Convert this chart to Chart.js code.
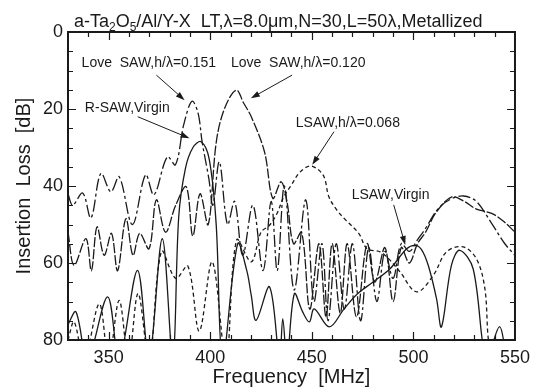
<!DOCTYPE html>
<html>
<head>
<meta charset="UTF-8">
<title>Insertion Loss</title>
<script src="https://cdn.jsdelivr.net/npm/chart.js"></script>
<style>
  html, body { margin: 0; padding: 0; background: #fff; }
</style>
</head>
<body>
<canvas id="lossChart" width="537" height="389"></canvas>
<script>
// values: frequency (MHz) and insertion loss (dB)
const virginFreq = [330, 333.9, 339.6, 349.5, 355.2, 364.2, 369.9, 376.4, 381.6, 384.5, 387.8, 391.5, 395.5, 399.5, 402.9, 406.1, 413.5, 418, 420.2, 422.6, 429.2, 434.1, 435.7, 437.8, 441.4, 445.5, 448.8, 451.2, 458.6, 465.9, 472.5, 480, 488.5, 496.7, 500.8, 504, 507.3, 511.4, 513.8, 518.7, 522.8, 529.4, 535.9, 542.4, 546.5, 550];
const virginLoss = [76, 72.7, 85, 68.8, 85, 61.9, 85, 53.7, 85, 48, 35.4, 30, 28.5, 33, 49.7, 85, 55, 62, 68.4, 74.9, 66.2, 85, 74.5, 85, 68, 72.7, 75.3, 71.9, 76.6, 71.9, 68, 65, 61.5, 56.3, 55.4, 56.5, 60.6, 69.3, 76.6, 60.6, 56.7, 61.5, 85, 76.5, 85, 82];

const love151Freq = [330, 332.3, 337.2, 341.3, 346.2, 351.1, 355.2, 361.7, 368.2, 372.3, 378.9, 382.9, 387, 391, 394, 396, 399.3, 401.3, 404.5, 408.5, 412, 416, 421, 426, 430, 433, 436.5, 441.3, 447, 451, 455, 458, 462, 466, 470, 474, 478, 482, 486, 490, 494, 498, 502, 506, 512, 518, 524.6, 531, 538.5, 545, 550];
const love151Loss = [42, 45, 41.8, 48.3, 36.7, 41.5, 37.6, 50, 37.1, 42.3, 32.4, 34.5, 24, 18, 21, 28.5, 38, 45, 33.7, 50, 44, 58, 45, 62, 44, 62, 40, 67, 43.6, 70, 55, 75, 55, 72, 55, 75, 56, 70, 57, 64, 55, 57, 54, 51, 46, 43.5, 42.6, 44, 49.7, 55, 58];

const love120Freq = [330, 333, 338.8, 341.5, 344.3, 347.8, 351.4, 354.4, 358.5, 362, 365.3, 369.9, 373.5, 378, 383, 388.2, 391.4, 395, 399, 403, 407.1, 412.8, 416.5, 420.2, 426.7, 430.8, 434.9, 437.8, 441, 445, 449, 453.5, 457, 460, 464, 467.4, 472, 477.2, 481, 486, 490, 494, 498, 502, 506, 511, 518.9, 525, 531, 538.5, 544, 550];
const love120Loss = [52, 60.6, 53.7, 62, 50.6, 58, 52.3, 62, 48.5, 58, 52.3, 56.3, 43.6, 52, 45, 40.2, 53, 42, 50, 28.5, 19.8, 15.1, 18.5, 22, 31.1, 43.2, 38.9, 44.1, 55, 52, 72, 55, 74, 55, 73, 55, 74, 55, 65, 56, 70, 56, 60, 55, 52, 47, 42.8, 44, 46, 47.1, 49, 52];

const lsaw068Freq = [330, 333, 338, 345.4, 350, 355.2, 359.8, 364.5, 370, 376, 383, 389, 394.6, 401, 407.8, 413, 420.2, 425, 429.2, 433, 436, 440, 444, 448.8, 452.5, 456, 458.4, 462, 466.6, 473.1, 477.2, 483.6, 488, 493.4, 501.6, 509.8, 516.3, 524.5, 531, 535, 539.2, 550];
const lsaw068Loss = [80, 75.3, 85, 70.6, 85, 69.7, 85, 67.9, 85, 57, 64, 60.8, 77.7, 59.7, 85, 54, 59.7, 52, 50.2, 47, 43, 39.7, 36.5, 34.8, 35.5, 37.6, 42.8, 46, 48.8, 52.3, 56.3, 57.1, 59, 62.3, 67.5, 63.2, 57.1, 55.8, 58.9, 66, 85, 85];

const xTickValues = [350, 400, 450, 500, 550];
const xMinorTicks = [340, 350, 360, 370, 380, 390, 400, 410, 420, 430, 440, 450, 460, 470, 480, 490, 500, 510, 520, 530, 540];
const yTickValues = [0, 20, 40, 60, 80];
const yMinorTicks = [5, 10, 15, 20, 25, 30, 35, 40, 45, 50, 55, 60, 65, 70, 75];

const FONT = '"Liberation Sans", Arial, sans-serif';
const INK = '#1a1a1a';

// annotation texts with their anchor (MHz, dB), and arrows from -> to
const notes = [
    { text: 'Love  SAW,h/\u03bb=0.151', f: 336.7, d: 8.1 },
    { text: 'Love  SAW,h/\u03bb=0.120', f: 410.2, d: 8.1 },
    { text: 'R-SAW,Virgin', f: 338.3, d: 19.7 },
    { text: 'LSAW,h/\u03bb=0.068', f: 442.1, d: 23.6 },
    { text: 'LSAW,Virgin', f: 469.6, d: 42.3 }
];
const arrows = [
    [373.5, 11.2, 387.4, 17.7],
    [440.3, 11.2, 420.0, 17.2],
    [364.3, 22.0, 389.8, 27.6],
    [460.9, 25.9, 450.2, 34.5],
    [490.3, 44.9, 496.0, 55.3]
];

function toPoints(xs, ys) {
    return xs.map((x, i) => ({ x: x, y: ys[i] }));
}

function series(xs, ys, dash) {
    return {
        data: toPoints(xs, ys),
        showLine: true,
        borderColor: INK,
        borderWidth: 1.3,
        borderDash: dash,
        pointRadius: 0,
        tension: 0.35,
        fill: false
    };
}

// frame, inward ticks, title and the arrows
const framePlugin = {
    id: 'frame',
    afterDatasetsDraw(chart) {
        const { ctx, chartArea: a, scales } = chart;
        const xs = scales.x, ys = scales.y;
        ctx.save();
        ctx.strokeStyle = INK;
        ctx.lineWidth = 1.2;
        ctx.beginPath();
        xMinorTicks.forEach(v => {
            const px = Math.round(xs.getPixelForValue(v)) + 0.5;
            const len = xTickValues.includes(v) ? 8 : 5;
            ctx.moveTo(px, a.bottom); ctx.lineTo(px, a.bottom - len);
            ctx.moveTo(px, a.top); ctx.lineTo(px, a.top + len);
        });
        yMinorTicks.forEach(v => {
            const py = Math.round(ys.getPixelForValue(v)) + 0.5;
            const len = yTickValues.includes(v) ? 8 : 5;
            ctx.moveTo(a.left, py); ctx.lineTo(a.left + len, py);
            ctx.moveTo(a.right, py); ctx.lineTo(a.right - len, py);
        });
        ctx.stroke();

        ctx.lineWidth = 2;
        ctx.strokeRect(a.left, a.top, a.right - a.left, a.bottom - a.top);

        // annotation texts
        ctx.fillStyle = INK;
        ctx.font = '14px ' + FONT;
        ctx.textBaseline = 'middle';
        ctx.textAlign = 'left';
        notes.forEach(n => {
            ctx.fillText(n.text, xs.getPixelForValue(n.f), ys.getPixelForValue(n.d));
        });

        // arrows
        ctx.lineWidth = 1;
        arrows.forEach(([f1, d1, f2, d2]) => {
            const x1 = xs.getPixelForValue(f1), y1 = ys.getPixelForValue(d1);
            const x2 = xs.getPixelForValue(f2), y2 = ys.getPixelForValue(d2);
            const ang = Math.atan2(y2 - y1, x2 - x1);
            ctx.beginPath();
            ctx.moveTo(x1, y1);
            ctx.lineTo(x2 - 6 * Math.cos(ang), y2 - 6 * Math.sin(ang));
            ctx.stroke();
            ctx.beginPath();
            ctx.moveTo(x2, y2);
            ctx.lineTo(x2 - 9 * Math.cos(ang) + 3 * Math.sin(ang), y2 - 9 * Math.sin(ang) - 3 * Math.cos(ang));
            ctx.lineTo(x2 - 9 * Math.cos(ang) - 3 * Math.sin(ang), y2 - 9 * Math.sin(ang) + 3 * Math.cos(ang));
            ctx.closePath();
            ctx.fill();
        });

        // title with subscripts
        const parts = [['a-Ta', 0], ['2', 1], ['O', 0], ['5', 1], ['/Al/Y-X  LT,\u03bb=8.0\u03bcm,N=30,L=50\u03bb,Metallized', 0]];
        let tx = 74;
        const base = 26.5;
        ctx.textBaseline = 'alphabetic';
        parts.forEach(([s, sub]) => {
            ctx.font = (sub ? '12px ' : '18px ') + FONT;
            ctx.fillText(s, tx, base + (sub ? 4 : 0));
            tx += ctx.measureText(s).width;
        });
        ctx.restore();
    }
};

const ctx = document.getElementById('lossChart').getContext('2d');
new Chart(ctx, {
    type: 'scatter',
    data: {
        datasets: [
            series(virginFreq, virginLoss, []),
            series(love151Freq, love151Loss, [12, 3, 3, 3]),
            series(love120Freq, love120Loss, [10, 2]),
            series(lsaw068Freq, lsaw068Loss, [4, 3])
        ]
    },
    options: {
        responsive: false,
        animation: false,
        layout: { padding: { top: 32, right: 20, left: 0, bottom: 0 } },
        plugins: {
            legend: { display: false },
            tooltip: { enabled: false }
        },
        scales: {
            x: {
                type: 'linear',
                min: 330,
                max: 550,
                afterBuildTicks: s => { s.ticks = xTickValues.map(v => ({ value: v })); },
                afterFit: s => { s.height = 49; },
                grid: { display: false, drawTicks: false },
                border: { display: false },
                ticks: { color: INK, padding: 7, font: { family: FONT, size: 18 } },
                title: {
                    display: true,
                    text: 'Frequency  [MHz]',
                    color: INK,
                    padding: 0,
                    font: { family: FONT, size: 20 }
                }
            },
            y: {
                type: 'linear',
                reverse: true,
                min: 0,
                max: 80,
                afterBuildTicks: s => { s.ticks = yTickValues.map(v => ({ value: v })); },
                afterFit: s => { s.width = 68; },
                grid: { display: false, drawTicks: false },
                border: { display: false },
                ticks: { color: INK, padding: 5, font: { family: FONT, size: 18 } },
                title: {
                    display: true,
                    text: 'Insertion  Loss  [dB]',
                    color: INK,
                    padding: { top: 12, bottom: 0 },
                    font: { family: FONT, size: 20 }
                }
            }
        }
    },
    plugins: [framePlugin]
});
</script>
</body>
</html>
